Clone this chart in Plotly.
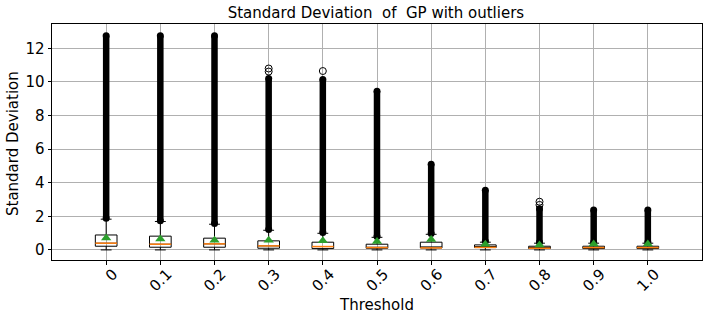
import plotly.graph_objects as go

# ---- data ----
thresholds = ["0", "0.1", "0.2", "0.3", "0.4", "0.5", "0.6", "0.7", "0.8", "0.9", "1.0"]
positions = [1, 2, 3, 4, 5, 6, 7, 8, 9, 10, 11]
q1 = [0.22, 0.16, 0.16, 0.10, 0.08, 0.10, 0.12, 0.14, 0.08, 0.08, 0.08]
median = [0.40, 0.34, 0.36, 0.24, 0.20, 0.14, 0.12, 0.15, 0.10, 0.14, 0.14]
q3 = [0.89, 0.82, 0.70, 0.54, 0.46, 0.34, 0.46, 0.30, 0.22, 0.22, 0.22]
lower_whisker = [0.0, 0.0, 0.0, 0.0, 0.0, 0.0, 0.0, 0.0, 0.0, 0.0, 0.0]
upper_whisker = [1.83, 1.69, 1.53, 1.17, 0.99, 0.75, 0.93, 0.46, 0.40, 0.40, 0.40]
means = [0.71, 0.65, 0.58, 0.58, 0.55, 0.50, 0.62, 0.34, 0.30, 0.35, 0.35]
# dense outlier runs (lowest and highest flier of each continuous run)
flier_low = [1.88, 1.74, 1.58, 1.22, 1.04, 0.80, 0.98, 0.52, 0.46, 0.46, 0.46]
flier_high = [12.75, 12.75, 12.75, 10.20, 10.15, 9.45, 5.10, 3.55, 2.45, 2.38, 2.38]
# isolated fliers above the dense runs
iso_pos = [4, 4, 5, 9, 9]
iso_val = [10.62, 10.80, 10.65, 2.68, 2.87]

BOX_W = 0.4

fig = go.Figure()

fig.add_trace(go.Box(
    x=positions, q1=q1, median=median, q3=q3,
    lowerfence=lower_whisker, upperfence=upper_whisker,
    width=BOX_W, whiskerwidth=0.5,
    line=dict(color="black", width=1), fillcolor="rgba(0,0,0,0)",
    boxpoints=False, showlegend=False, hoverinfo="skip",
))

# dense flier columns
for p, lo, hi in zip(positions, flier_low, flier_high):
    fig.add_trace(go.Scatter(
        x=[p, p], y=[lo, hi], mode="lines+markers",
        line=dict(color="black", width=6.5),
        marker=dict(symbol="circle", size=7, color="black"),
        showlegend=False, hoverinfo="skip",
    ))

# isolated fliers
fig.add_trace(go.Scatter(
    x=iso_pos, y=iso_val, mode="markers",
    marker=dict(symbol="circle-open", size=7, color="black", line=dict(width=1)),
    showlegend=False, hoverinfo="skip",
))

# medians (orange)
mx, my = [], []
for p, m in zip(positions, median):
    mx += [p - BOX_W / 2, p + BOX_W / 2, None]
    my += [m, m, None]
fig.add_trace(go.Scatter(x=mx, y=my, mode="lines",
                         line=dict(color="#ff7f0e", width=1.5),
                         showlegend=False, hoverinfo="skip"))

# means (green triangles)
fig.add_trace(go.Scatter(
    x=positions, y=means, mode="markers",
    marker=dict(symbol="triangle-up", size=9, color="#2ca02c"),
    showlegend=False, hoverinfo="skip",
))

fig.update_layout(
    width=712, height=321,
    margin=dict(l=52, r=10, t=24, b=61, autoexpand=False),
    paper_bgcolor="white", plot_bgcolor="white",
    font=dict(family="DejaVu Sans", size=15, color="black"),
    title=dict(text="Standard Deviation\u00a0 of\u00a0 GP with outliers",
               x=0.528, xanchor="center", y=1 - 13 / 321, yanchor="middle",
               font=dict(size=15)),
    xaxis=dict(
        range=[0, 12], tickvals=positions, ticktext=thresholds,
        tickangle=-45, ticks="outside", ticklen=3.5, tickcolor="black",
        ticklabelshift=7, ticklabelstandoff=-5,
        showgrid=True, gridcolor="#b0b0b0", gridwidth=1,
        showline=True, linecolor="black", linewidth=1, mirror=True,
        zeroline=False, automargin=False,
    ),
    yaxis=dict(
        range=[-0.6, 13.45], tickvals=[0, 2, 4, 6, 8, 10, 12],
        ticks="outside", ticklen=3.5, tickcolor="black",
        showgrid=True, gridcolor="#b0b0b0", gridwidth=1,
        showline=True, linecolor="black", linewidth=1, mirror=True,
        zeroline=False, automargin=False,
    ),
    annotations=[
        dict(text="Threshold", xref="paper", yref="paper",
             x=(376 - 52) / 650, y=(260 - 305) / 236,
             xanchor="center", yanchor="middle", showarrow=False,
             font=dict(size=15)),
        dict(text="Standard Deviation", xref="paper", yref="paper",
             x=(13 - 52) / 650, y=(260 - 144) / 236, textangle=-90,
             xanchor="center", yanchor="middle", showarrow=False,
             font=dict(size=15)),
    ],
)

fig.write_html("out.html", config={"displayModeBar": False},
               post_script="document.body.style.margin='0';")
